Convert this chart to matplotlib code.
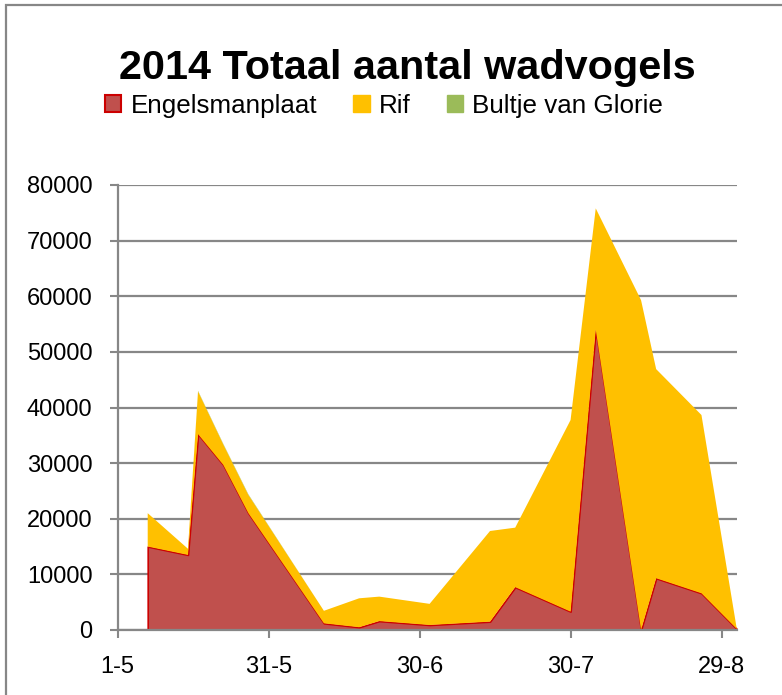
import numpy as np
import matplotlib
matplotlib.use("Agg")
import matplotlib.pyplot as plt
from matplotlib.patches import Rectangle, Patch

plt.rcParams['font.family'] = ['Liberation Sans', 'DejaVu Sans']

# ---- data ----
dates = ["2014-05-07", "2014-05-15", "2014-05-17", "2014-05-22", "2014-05-27",
         "2014-06-11", "2014-06-18", "2014-06-22", "2014-07-02", "2014-07-14",
         "2014-07-19", "2014-07-30", "2014-08-04", "2014-08-13", "2014-08-16",
         "2014-08-25", "2014-09-01"]
engelsmanplaat = [15000, 13500, 35200, 29700, 21000, 1200, 500, 1600, 900, 1500,
                  7700, 3300, 54000, 0, 9300, 6600, 200]
rif = [6000, 1100, 7700, 3700, 3300, 2250, 5200, 4400, 3800, 16300,
       10700, 34450, 21800, 59300, 37600, 32050, 100]
bultje = [0, 0, 100, 100, 100, 0, 0, 0, 0, 0, 0, 0, 0, 0, 0, 0, 0]
series_names = ["Engelsmanplaat", "Rif", "Bultje van Glorie"]
xtick_dates = ["2014-05-01", "2014-05-31", "2014-06-30", "2014-07-30", "2014-08-29"]
xtick_labels = ["1-5", "31-5", "30-6", "30-7", "29-8"]
yticks = [0, 10000, 20000, 30000, 40000, 50000, 60000, 70000, 80000]
title = "2014 Totaal aantal wadvogels"

colors = ["#C0504D", "#FFC000", "#9BBB59"]
grey = "#878787"

x = np.array(dates, dtype="datetime64[D]")

fig = plt.figure(figsize=(7.82, 6.95), dpi=100)
W, H = 782, 695
ax = fig.add_axes([117.5 / W, 1 - 630 / H, (736.7 - 117.5) / W, (630 - 185) / H])

polys = ax.stackplot(x, engelsmanplaat, rif, bultje, colors=colors, linewidth=0)
polys[0].set_edgecolor("#CC0000")
polys[0].set_linewidth(1.2)

ax.set_xlim(np.datetime64("2014-05-01"), np.datetime64("2014-09-01"))
ax.set_ylim(0, 80000)
ax.set_yticks(yticks)
ax.set_yticklabels([str(v) for v in yticks])
ax.set_xticks(np.array(xtick_dates, dtype="datetime64[D]"))
ax.set_xticklabels(xtick_labels)

ax.set_axisbelow(True)
ax.grid(axis="y", color=grey, linewidth=1.6)
for s in ["top", "right"]:
    ax.spines[s].set_visible(False)
for s in ["left", "bottom"]:
    ax.spines[s].set_color(grey)
    ax.spines[s].set_linewidth(1.6)
ax.tick_params(axis="both", direction="out", length=6, width=1.5, color=grey,
               labelsize=17, labelcolor="black")
ax.tick_params(axis="y", pad=12)
ax.tick_params(axis="x", pad=13)

# outer chart border
fig.patches.append(Rectangle((6 / W, -0.1), 1.2, 1 - 5 / H + 0.1,
                             transform=fig.transFigure, fill=False,
                             edgecolor=grey, linewidth=1.6))

fig.text(407 / W, 1 - 79 / H, title, fontsize=29.8, weight="bold",
         ha="center", va="baseline")

handles = [Patch(facecolor=colors[0], edgecolor="#CC0000", linewidth=1.5),
           Patch(facecolor=colors[1], edgecolor=colors[1]),
           Patch(facecolor=colors[2], edgecolor=colors[2])]
fig.legend(handles, series_names, loc="center", ncol=3,
           bbox_to_anchor=(384 / W, 1 - 106 / H), frameon=False,
           fontsize=18.7, handlelength=0.62, handleheight=0.62,
           handletextpad=0.35, columnspacing=1.4, borderpad=0, borderaxespad=0)

fig.savefig("out.png", dpi=100)
